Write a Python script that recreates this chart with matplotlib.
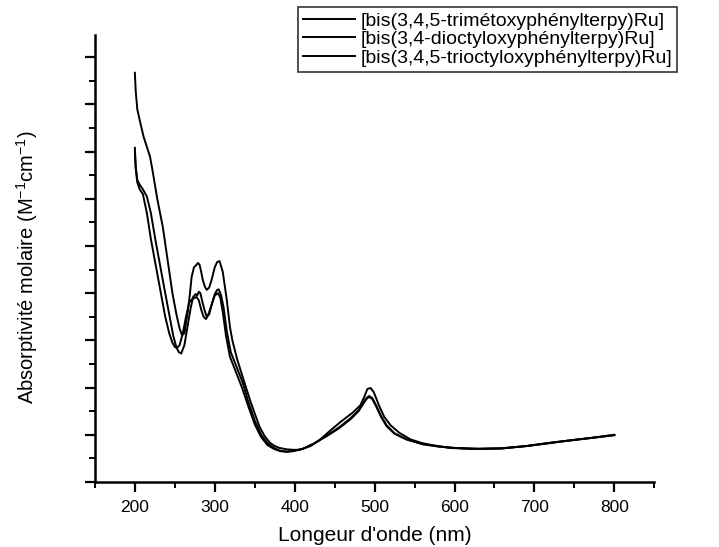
import matplotlib
matplotlib.use("Agg")
import matplotlib.pyplot as plt
from matplotlib.ticker import MultipleLocator, NullFormatter

plt.rcParams["font.family"] = ["Liberation Sans", "DejaVu Sans"]

# UV-visible spectra (wavelength in nm, absorptivity in arbitrary major-tick units)
wl_a = [200, 201, 203, 206, 211, 215, 219, 222, 228, 235, 241, 247, 252, 256, 259,
        262, 266, 269, 271, 274, 276, 279, 281, 283, 285, 288, 290, 293, 296, 300,
        303, 306, 310, 315, 319, 322, 328, 335, 344, 350, 356, 362, 369, 375, 381,
        390, 398, 406, 420, 432, 444, 458, 472, 482, 487, 491, 495, 499, 506, 512,
        520, 531, 545, 560, 572, 594, 620, 656, 690, 719, 740, 770, 800]
abs_a = [8.67, 8.3, 7.9, 7.67, 7.31, 7.1, 6.89, 6.61, 6.0, 5.40, 4.7, 4.0, 3.55, 3.25, 3.11,
         3.15, 3.58, 4.0, 4.34, 4.55, 4.58, 4.64, 4.6, 4.45, 4.28, 4.12, 4.07, 4.12, 4.28, 4.55,
         4.66, 4.68, 4.45, 3.86, 3.28, 3.0, 2.6, 2.22, 1.74, 1.45, 1.17, 0.98, 0.83, 0.76, 0.72,
         0.69, 0.68, 0.68, 0.76, 0.9, 1.08, 1.28, 1.46, 1.62, 1.8, 1.97, 1.99, 1.9, 1.6, 1.38,
         1.2, 1.04, 0.9, 0.82, 0.78, 0.72, 0.7, 0.71, 0.76, 0.82, 0.87, 0.93, 1.0]

wl_b = [200, 201, 203, 206, 210, 215, 220, 226, 232, 238, 243, 248, 252, 255, 258,
        262, 266, 270, 273, 276, 278, 280, 282, 284, 287, 290, 293, 296, 300, 303,
        305, 308, 311, 315, 320, 327, 335, 342, 350, 358, 366, 374, 382, 390, 398,
        410, 425, 440, 455, 470, 480, 486, 490, 493, 497, 502, 508, 515, 525, 540,
        560, 580, 600, 630, 660, 690, 720, 750, 780, 800]
abs_b = [7.08, 6.7, 6.4, 6.3, 6.2, 6.05, 5.7, 5.1, 4.55, 4.0, 3.55, 3.1, 2.85, 2.75, 2.72,
         2.9, 3.3, 3.7, 3.92, 3.98, 3.95, 4.03, 4.0, 3.85, 3.65, 3.5, 3.55, 3.75, 3.98, 4.07,
         4.08, 3.95, 3.7, 3.2, 2.75, 2.45, 2.1, 1.7, 1.3, 1.0, 0.82, 0.72, 0.66, 0.64, 0.65,
         0.7, 0.82, 0.98, 1.15, 1.35, 1.52, 1.68, 1.78, 1.82, 1.78, 1.62, 1.4, 1.2, 1.03, 0.9,
         0.8, 0.75, 0.72, 0.7, 0.71, 0.76, 0.83, 0.89, 0.95, 0.99]

wl_c = [200, 201, 203, 206, 210, 215, 220, 226, 232, 238, 243, 247, 250, 253, 256,
        260, 264, 268, 272, 275, 277, 280, 283, 286, 289, 292, 296, 300, 304, 307,
        310, 314, 319, 326, 334, 342, 350, 358, 366, 374, 382, 390, 398, 410, 425,
        440, 455, 470, 480, 486, 490, 493, 497, 502, 508, 515, 525, 540, 560, 580,
        600, 630, 660, 690, 720, 750, 780, 800]
abs_c = [7.0, 6.65, 6.35, 6.2, 6.1, 5.7, 5.15, 4.6, 4.05, 3.5, 3.15, 2.95, 2.86, 2.84, 2.9,
         3.15, 3.5, 3.8, 3.88, 3.9, 3.92, 3.85, 3.65, 3.5, 3.45, 3.55, 3.75, 3.95, 4.0, 3.9,
         3.6, 3.1, 2.65, 2.35, 2.0, 1.6, 1.22, 0.95, 0.78, 0.7, 0.65, 0.64, 0.66, 0.7, 0.82,
         0.97, 1.13, 1.33, 1.5, 1.66, 1.76, 1.8, 1.76, 1.6, 1.38, 1.18, 1.02, 0.9, 0.8, 0.75,
         0.72, 0.7, 0.71, 0.76, 0.83, 0.89, 0.95, 0.99]

labels = [
    "[bis(3,4,5-trimétoxyphénylterpy)Ru]",
    "[bis(3,4-dioctyloxyphénylterpy)Ru]",
    "[bis(3,4,5-trioctyloxyphénylterpy)Ru]",
]

fig = plt.figure(figsize=(7.19, 5.47), dpi=100)
ax = fig.add_axes([0.132, 0.119, 0.778, 0.817])

for wl, vals, lab in zip([wl_a, wl_b, wl_c], [abs_a, abs_b, abs_c], labels):
    ax.plot(wl, vals, color="black", lw=1.4, label=lab)

ax.set_xlim(150, 850)
ax.set_ylim(0, 9.47)
ax.xaxis.set_major_locator(MultipleLocator(100))
ax.xaxis.set_minor_locator(MultipleLocator(50))
ax.yaxis.set_major_locator(MultipleLocator(1))
ax.yaxis.set_minor_locator(MultipleLocator(0.5))
ax.yaxis.set_major_formatter(NullFormatter())

for side in ("top", "right"):
    ax.spines[side].set_visible(False)
for side in ("left", "bottom"):
    ax.spines[side].set_linewidth(1.8)

ax.tick_params(which="major", direction="out", length=7, width=1.6, labelsize=12.5)
ax.tick_params(which="minor", direction="out", length=4, width=1.4)
ax.tick_params(axis="x", pad=6)

ax.set_xlabel("Longeur d'onde (nm)", fontsize=15, labelpad=8)
ax.set_ylabel("Absorptivité molaire (M$^{\\mathregular{-1}}$cm$^{\\mathregular{-1}}$)",
              fontsize=14.5)
ax.yaxis.set_label_coords(-0.098, 0.48)

leg = fig.legend(loc="upper left", bbox_to_anchor=(0.414, 0.987), fontsize=14,
                 frameon=True, fancybox=False, handlelength=2.7, handletextpad=0.3,
                 labelspacing=0.05, borderpad=0.25, borderaxespad=0)
leg.get_frame().set_edgecolor("black")
leg.get_frame().set_linewidth(1.2)

fig.savefig("out.png", dpi=100)
